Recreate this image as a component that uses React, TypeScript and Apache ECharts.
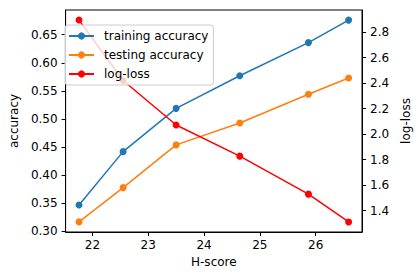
import React, { useEffect, useRef } from "react";
import * as echarts from "echarts";

const hScores = [21.76, 22.55, 23.5, 24.64, 25.87, 26.59];
const trainingAccuracy = [0.347, 0.442, 0.519, 0.577, 0.636, 0.676];
const testingAccuracy = [0.317, 0.378, 0.454, 0.493, 0.544, 0.573];
const logLoss = [2.894, 2.42, 2.071, 1.827, 1.529, 1.311];

const xTicks = [22, 23, 24, 25, 26];
const leftTicks = [0.3, 0.35, 0.4, 0.45, 0.5, 0.55, 0.6, 0.65];
const rightTicks = [1.4, 1.6, 1.8, 2.0, 2.2, 2.4, 2.6, 2.8];

const FONT = "DejaVu Sans";

export default function App() {
  const ref = useRef<HTMLDivElement>(null);
  useEffect(() => {
    if (!ref.current) return;
    const chart = echarts.init(ref.current, null, { renderer: "svg" });
    const pairs = (ys: number[]) => hScores.map((x, i) => [x, ys[i]]);
    const axisCommon = {
      axisLine: { show: true, lineStyle: { color: "#000", width: 1 } },
      axisTick: { show: true, length: 4, lineStyle: { color: "#000", width: 1 } },
      splitLine: { show: false },
      nameTextStyle: { fontFamily: FONT, fontSize: 12, color: "#000" },
    };
    chart.setOption({
      animation: false,
      backgroundColor: "#fff",
      textStyle: { fontFamily: FONT },
      grid: {
        left: 58,
        right: 50,
        top: 10,
        bottom: 44,
        show: true,
        borderColor: "#000",
        borderWidth: 1,
        backgroundColor: "transparent",
      },
      legend: {
        orient: "vertical",
        left: 65,
        top: 25,
        itemWidth: 25,
        itemHeight: 9,
        itemGap: 7,
        padding: [5, 5, 5, 3],
        backgroundColor: "rgba(255,255,255,0.8)",
        borderColor: "#cccccc",
        borderWidth: 1,
        borderRadius: 3,
        textStyle: { fontFamily: FONT, fontSize: 12, color: "#000", padding: [0, 0, 0, 5] },
        data: ["training accuracy", "testing accuracy", "log-loss"],
      },
      xAxis: {
        type: "value",
        min: 21.52,
        max: 26.83,
        name: "H-score",
        nameLocation: "middle",
        nameGap: 23,
        ...axisCommon,
        axisTick: { ...axisCommon.axisTick, customValues: xTicks },
        axisLabel: {
          customValues: xTicks,
          margin: 7,
          fontFamily: FONT,
          fontSize: 12,
          color: "#000",
        },
      },
      yAxis: [
        {
          type: "value",
          position: "left",
          min: 0.299,
          max: 0.694,
          name: "accuracy",
          nameLocation: "middle",
          nameGap: 38,
          nameRotate: 90,
          ...axisCommon,
          axisTick: { ...axisCommon.axisTick, customValues: leftTicks },
          axisLabel: {
            customValues: leftTicks,
            margin: 8,
            fontFamily: FONT,
            fontSize: 12,
            color: "#000",
            formatter: (v: number) => v.toFixed(2),
          },
        },
        {
          type: "value",
          position: "right",
          min: 1.232,
          max: 2.973,
          name: "log-loss",
          nameLocation: "middle",
          nameGap: 30,
          nameRotate: 90,
          ...axisCommon,
          axisTick: { ...axisCommon.axisTick, customValues: rightTicks },
          axisLabel: {
            customValues: rightTicks,
            margin: 8,
            fontFamily: FONT,
            fontSize: 12,
            color: "#000",
            formatter: (v: number) => v.toFixed(1),
          },
        },
      ],
      series: [
        {
          name: "training accuracy",
          type: "line",
          yAxisIndex: 0,
          data: pairs(trainingAccuracy),
          symbol: "circle",
          symbolSize: 7,
          color: "#1f77b4",
          lineStyle: { width: 1.5, color: "#1f77b4" },
          itemStyle: { color: "#1f77b4" },
          z: 2,
        },
        {
          name: "testing accuracy",
          type: "line",
          yAxisIndex: 0,
          data: pairs(testingAccuracy),
          symbol: "circle",
          symbolSize: 7,
          color: "#ff7f0e",
          lineStyle: { width: 1.5, color: "#ff7f0e" },
          itemStyle: { color: "#ff7f0e" },
          z: 2,
        },
        {
          name: "log-loss",
          type: "line",
          yAxisIndex: 1,
          data: pairs(logLoss),
          symbol: "circle",
          symbolSize: 7,
          color: "#ff0000",
          lineStyle: { width: 1.5, color: "#ff0000" },
          itemStyle: { color: "#ff0000" },
          z: 3,
        },
      ],
    });
    return () => chart.dispose();
  }, []);
  return <div ref={ref} style={{ width: 420, height: 276, position: "fixed", left: 0, top: 0 }} />;
}
